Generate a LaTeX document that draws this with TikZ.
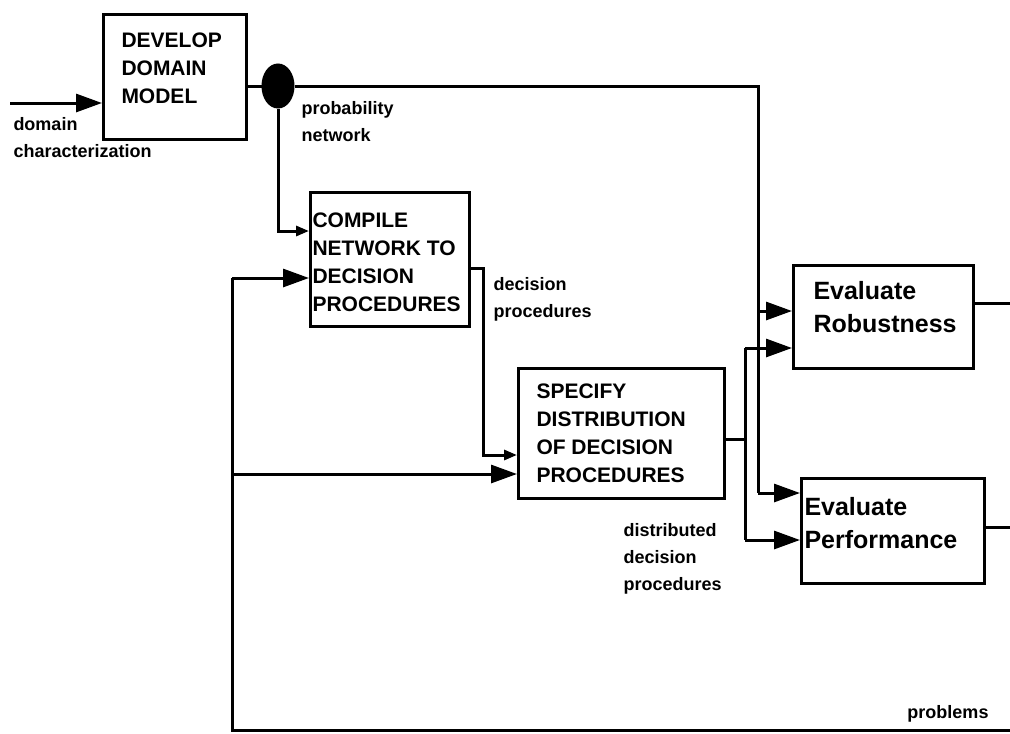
\documentclass[tikz,border=0pt]{standalone}
\usepackage{fontspec}
\setmainfont{Liberation Sans}
\usetikzlibrary{arrows.meta,shapes.geometric}
\begin{document}
\begin{tikzpicture}[x=1pt,y=-1pt,
  line width=3pt, line join=miter,
  boxshape/.style={draw, rectangle, inner sep=0pt, anchor=north west},
  boxtext/.style={anchor=west, inner sep=0pt, align=left, font=\bfseries\fontsize{21}{28}\selectfont},
  evaltext/.style={anchor=west, inner sep=0pt, align=left, font=\bfseries\fontsize{25}{33}\selectfont},
  lbl/.style={anchor=north west, inner sep=0pt, align=left, font=\bfseries\fontsize{18}{27}\selectfont},
  big/.style={-{Triangle[length=26pt,width=18pt]}},
  small/.style={-{Triangle[length=13pt,width=10pt]}}
]
\useasboundingbox (0,0) rectangle (1010,734);

% boxes
\node[boxshape, minimum width=143pt, minimum height=125pt] (dev) at (102,13) {};
\node[boxshape, minimum width=159pt, minimum height=134pt] (comp) at (309,191) {};
\node[boxshape, minimum width=206pt, minimum height=130pt] (spec) at (517,367) {};
\node[boxshape, minimum width=180pt, minimum height=103pt] (rob) at (792,264) {};
\node[boxshape, minimum width=183pt, minimum height=105pt] (perf) at (800,477) {};
\node[draw, fill=black, ellipse, inner sep=0pt, minimum width=30pt, minimum height=42pt] (ell) at (278,86) {};

% box texts
\node[boxtext] (devt) at (120,68) {DEVELOP\\DOMAIN\\MODEL};
\node[boxtext] (compt) at (311,262) {COMPILE\\NETWORK TO\\DECISION\\PROCEDURES};
\node[boxtext] (spect) at (535,433) {SPECIFY\\DISTRIBUTION\\OF DECISION\\PROCEDURES};
\node[evaltext] (robt) at (812,307) {Evaluate\\Robustness};
\node[evaltext] (perft) at (803,523) {Evaluate\\Performance};

% labels
\node[lbl] (ldom) at (12,116) {domain\\characterization};
\node[lbl] (lprob) at (300,100) {probability\\network};
\node[lbl] (ldec) at (492,276) {decision\\procedures};
\node[lbl] (ldist) at (622,522) {distributed\\decision\\procedures};
\node[lbl, anchor=north east] (lprobl) at (990,704) {problems};

% coordinates
\coordinate (din) at (10,103);
\coordinate (pnR) at (758,86);
\coordinate (pnRob) at (758,311);
\coordinate (pnPerf) at (758,493);
\coordinate (pnD) at (278,231);
\coordinate (fbR) at (1010,730);
\coordinate (fbL) at (232,730);
\coordinate (fbC) at (232,278);
\coordinate (fbS) at (232,474);
\coordinate (cpo) at (483,268);
\coordinate (cpd) at (483,455);
\coordinate (spo) at (745,439);
\coordinate (spT) at (745,348);
\coordinate (spB) at (745,540);
\coordinate (robo) at (1010,303);
\coordinate (perfo) at (1010,527);

% connectors
\draw[big] (din) -- (din -| dev.west);
\draw (ell.center -| dev.east) -- (ell);
\draw (ell) -- (pnR) -- (pnPerf);
\draw[big] (pnRob) -- (pnRob -| rob.west);
\draw[big] (pnPerf) -- (pnPerf -| perf.west);
\draw[small] (ell.south) -- (pnD) -- (pnD -| comp.west);
\draw (fbR) -- (fbL) -- (fbC);
\draw[big] (fbC) -- (fbC -| comp.west);
\draw[big] (fbS) -- (fbS -| spec.west);
\draw[small] (cpo -| comp.east) -- (cpo) -- (cpd) -- (cpd -| spec.west);
\draw (spo -| spec.east) -- (spo);
\draw (spT) -- (spB);
\draw[big] (spT) -- (spT -| rob.west);
\draw[big] (spB) -- (spB -| perf.west);
\draw (robo -| rob.east) -- (robo);
\draw (perfo -| perf.east) -- (perfo);
\end{tikzpicture}
\end{document}
